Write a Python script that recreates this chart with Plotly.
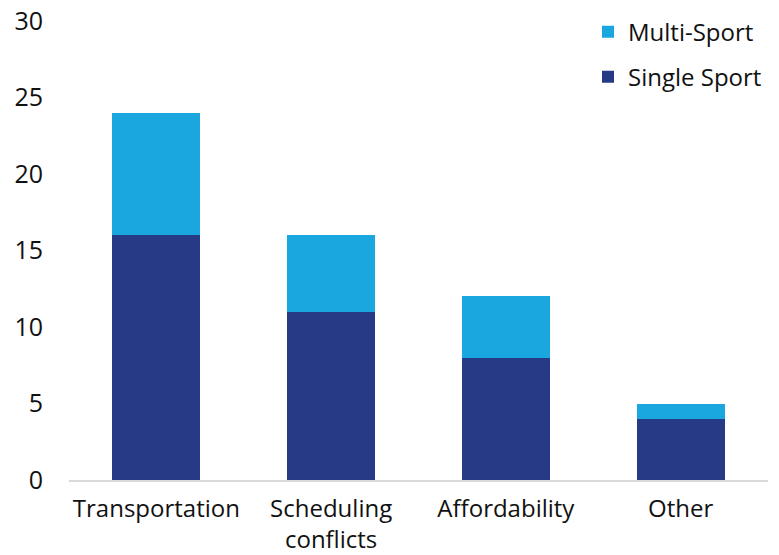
import plotly.graph_objects as go

categories = ["Transportation", "Scheduling<br>conflicts", "Affordability", "Other"]
single_sport = [16, 11, 8, 4]
multi_sport = [8, 5, 4, 1]
y_ticks = [0, 5, 10, 15, 20, 25, 30]

FONT = "Open Sans"

fig = go.Figure()
fig.add_trace(go.Bar(x=categories, y=single_sport, name="Single Sport",
                     marker=dict(color="#263A85", line=dict(width=0)),
                     legendgroup="single", legendrank=2))
fig.add_trace(go.Bar(x=categories, y=multi_sport, name="Multi-Sport",
                     marker=dict(color="#1AA7E0", line=dict(width=0)),
                     legendgroup="multi", legendrank=1))

fig.update_layout(
    barmode="stack",
    bargap=0.497,
    width=779, height=555,
    margin=dict(l=69, r=11, t=21, b=75, autoexpand=False),
    plot_bgcolor="white", paper_bgcolor="white",
    font=dict(family=FONT, size=24, color="#111111"),
    showlegend=True,
    legend=dict(x=0.7425, y=1.025, xanchor="left", yanchor="top",
                traceorder="grouped", tracegroupgap=11,
                font=dict(family=FONT, size=24, color="#111111"),
                bgcolor="rgba(0,0,0,0)", itemwidth=30),
    xaxis=dict(showgrid=False, showline=True, linecolor="#D9D9D9", linewidth=2,
               ticks="outside", ticklen=6, tickcolor="rgba(0,0,0,0)",
               tickfont=dict(size=24), automargin=False),
    yaxis=dict(range=[0, 30], tickvals=y_ticks, showgrid=False, zeroline=False,
               showline=False, ticks="outside", ticklen=20, tickcolor="rgba(0,0,0,0)",
               tickfont=dict(size=25), automargin=False),
)

fig.write_html("out.html")
